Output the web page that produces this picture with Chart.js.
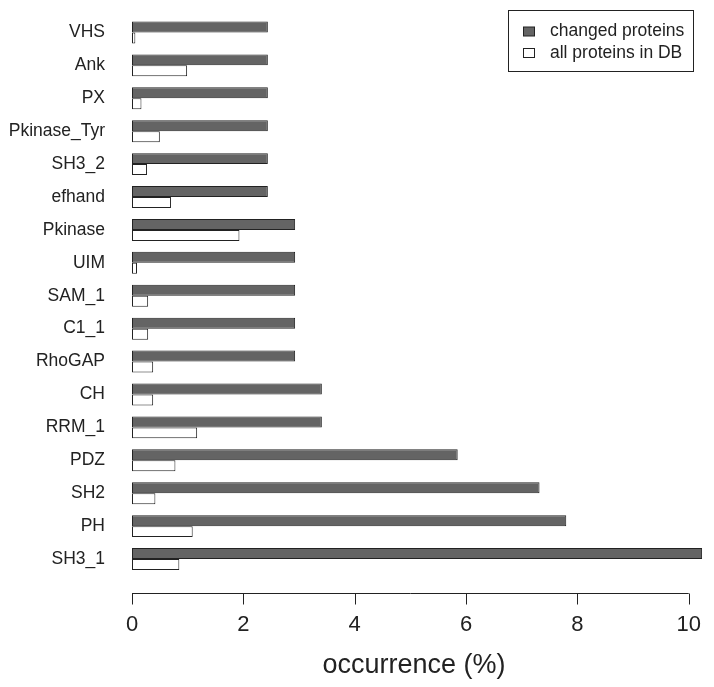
<!DOCTYPE html>
<html>
<head>
<meta charset="utf-8">
<script src="https://cdn.jsdelivr.net/npm/chart.js@4/dist/chart.umd.min.js"></script>
<style>
  html, body { margin: 0; padding: 0; background: #fff; }
  #wrap { width: 714px; height: 687px; }
</style>
</head>
<body>
<div id="wrap"><canvas id="c" width="714" height="687"></canvas></div>
<script>
const categories = ["VHS","Ank","PX","Pkinase_Tyr","SH3_2","efhand","Pkinase","UIM","SAM_1","C1_1","RhoGAP","CH","RRM_1","PDZ","SH2","PH","SH3_1"];
const changedProteins = [2.44,2.44,2.44,2.44,2.44,2.44,2.93,2.93,2.93,2.93,2.93,3.41,3.41,5.85,7.32,7.80,10.24];
const allProteinsInDB = [0.06,0.99,0.17,0.50,0.27,0.70,1.93,0.09,0.29,0.29,0.38,0.38,1.17,0.78,0.42,1.09,0.85];
const seriesNames = ["changed proteins","all proteins in DB"];
const xTickValues = [0,2,4,6,8,10];
const xTitle = "occurrence (%)";

const FONT = "'Liberation Sans', Arial, sans-serif";
const INK = '#222';

const axisPlugin = {
  id: 'rAxis',
  afterDraw(chart) {
    const ctx = chart.ctx;
    const xs = chart.scales.x;
    const y0 = Math.round(chart.chartArea.bottom + 17) + 0.5;
    ctx.save();
    ctx.strokeStyle = INK;
    ctx.lineWidth = 1;
    ctx.beginPath();
    ctx.moveTo(xs.getPixelForValue(xTickValues[0]), y0);
    ctx.lineTo(xs.getPixelForValue(xTickValues[xTickValues.length - 1]), y0);
    xTickValues.forEach(v => {
      const px = Math.round(xs.getPixelForValue(v)) + 0.5;
      ctx.moveTo(px, y0);
      ctx.lineTo(px, y0 + 11);
    });
    ctx.stroke();

    // axis title
    ctx.fillStyle = INK;
    ctx.font = "27px " + FONT;
    ctx.textAlign = 'center';
    ctx.textBaseline = 'middle';
    ctx.fillText(xTitle, 414, 666);

    // legend
    ctx.strokeStyle = INK;
    ctx.strokeRect(508.5, 10.5, 185, 61);
    ctx.font = "17.5px " + FONT;
    ctx.textBaseline = 'middle';
    ctx.textAlign = 'left';
    const rows = [31.5, 53];
    chart.data.datasets.forEach((ds, i) => {
      ctx.fillStyle = ds.backgroundColor;
      ctx.fillRect(523.5, rows[i] - 4.5, 11, 9);
      ctx.strokeStyle = INK;
      ctx.strokeRect(523.5, rows[i] - 4.5, 11, 9);
      ctx.fillStyle = INK;
      ctx.fillText(ds.label, 550, rows[i]);
    });
    ctx.restore();
  }
};

new Chart(document.getElementById('c'), {
  type: 'bar',
  data: {
    labels: categories,
    datasets: [
      { label: seriesNames[0], data: changedProteins, backgroundColor: '#646464', borderColor: '#222222', borderWidth: 1, borderSkipped: false },
      { label: seriesNames[1], data: allProteinsInDB, backgroundColor: '#ffffff', borderColor: '#222222', borderWidth: 1, borderSkipped: false }
    ]
  },
  options: {
    indexAxis: 'y',
    responsive: false,
    animation: false,
    devicePixelRatio: 1,
    categoryPercentage: 0.667,
    barPercentage: 1.0,
    layout: { padding: { top: 16, right: 3, left: 0, bottom: 0 } },
    plugins: { legend: { display: false }, tooltip: { enabled: false } },
    scales: {
      x: {
        type: 'linear',
        min: 0,
        max: 10.4,
        border: { display: false },
        grid: { display: false, drawTicks: false },
        afterBuildTicks(scale) { scale.ticks = xTickValues.map(v => ({ value: v })); },
        afterFit(scale) { scale.height = 111.5; scale.paddingLeft = 0; scale.paddingRight = 0; },
        ticks: {
          padding: 36.5,
          color: INK,
          font: { family: FONT, size: 22 },
          maxRotation: 0,
          autoSkip: false
        },
        title: { display: false }
      },
      y: {
        border: { display: false },
        grid: { display: false, drawTicks: false },
        afterFit(scale) { scale.width = 132; scale.paddingTop = 0; scale.paddingBottom = 0; },
        ticks: {
          padding: 27,
          color: INK,
          font: { family: FONT, size: 17.5 },
          autoSkip: false
        }
      }
    }
  },
  plugins: [axisPlugin]
});
</script>
</body>
</html>
